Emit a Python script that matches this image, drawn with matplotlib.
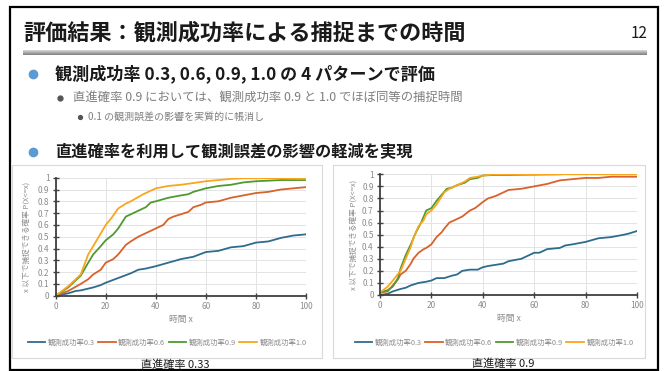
import matplotlib
matplotlib.use("Agg")
import matplotlib.pyplot as plt
import numpy as np

plt.rcParams['font.family'] = ['Noto Sans CJK JP', 'DejaVu Sans']

# ---- data -------------------------------------------------------------
series_labels = ["観測成功率0.3", "観測成功率0.6", "観測成功率0.9", "観測成功率1.0"]
series_colors = ["#2E6C8E", "#D9622B", "#4E9A2F", "#F9A61E"]

# 直進確率 0.33
left_x_03 = [0, 5, 8, 10, 13, 15, 18, 20, 25, 30, 33, 36, 40, 45, 50, 55, 60, 65, 70, 75, 80, 85, 90, 95, 100]
left_y_03 = [0, 0.02, 0.04, 0.045, 0.06, 0.07, 0.09, 0.11, 0.15, 0.19, 0.22, 0.23, 0.25, 0.28, 0.31, 0.33,
             0.37, 0.38, 0.41, 0.42, 0.45, 0.46, 0.49, 0.51, 0.52]
left_x_06 = [0, 5, 10, 13, 15, 18, 20, 23, 25, 28, 30, 33, 36, 40, 43, 45, 47, 50, 53, 55, 58, 60, 65, 70,
             75, 80, 85, 90, 95, 100]
left_y_06 = [0, 0.04, 0.10, 0.14, 0.18, 0.22, 0.28, 0.31, 0.35, 0.43, 0.46, 0.50, 0.53, 0.57, 0.60, 0.65,
             0.67, 0.69, 0.71, 0.75, 0.77, 0.79, 0.80, 0.83, 0.85, 0.87, 0.88, 0.90, 0.91, 0.92]
left_x_09 = [0, 5, 10, 13, 15, 18, 20, 23, 25, 28, 30, 33, 36, 38, 40, 45, 50, 53, 55, 60, 65, 70, 75, 80,
             90, 100]
left_y_09 = [0, 0.07, 0.17, 0.28, 0.35, 0.42, 0.47, 0.52, 0.57, 0.67, 0.69, 0.72, 0.75, 0.79, 0.80, 0.83,
             0.85, 0.86, 0.88, 0.91, 0.93, 0.94, 0.96, 0.97, 0.98, 0.98]
left_x_10 = [0, 5, 10, 13, 15, 20, 22, 25, 28, 30, 35, 40, 45, 50, 55, 60, 65, 70, 75, 80, 90, 100]
left_y_10 = [0, 0.08, 0.18, 0.35, 0.42, 0.60, 0.65, 0.74, 0.78, 0.80, 0.86, 0.91, 0.93, 0.94, 0.955, 0.97,
             0.98, 0.99, 0.995, 0.995, 0.995, 0.99]

# 直進確率 0.9
right_x_03 = [0, 3, 5, 8, 10, 12, 15, 18, 20, 22, 25, 28, 30, 32, 35, 38, 40, 42, 45, 48, 50, 55, 60, 62,
              65, 70, 72, 75, 80, 85, 90, 95, 97, 100]
right_y_03 = [0, 0.01, 0.03, 0.05, 0.06, 0.08, 0.10, 0.11, 0.12, 0.14, 0.14, 0.16, 0.17, 0.20, 0.21, 0.21,
              0.23, 0.24, 0.25, 0.26, 0.28, 0.30, 0.35, 0.35, 0.38, 0.39, 0.41, 0.42, 0.44, 0.47, 0.48,
              0.50, 0.51, 0.53]
right_x_06 = [0, 3, 5, 7, 8, 10, 12, 13, 15, 17, 18, 20, 22, 24, 25, 27, 30, 32, 35, 37, 40, 42, 45, 47, 50,
              55, 60, 65, 70, 75, 80, 85, 90, 100]
right_y_06 = [0.02, 0.03, 0.08, 0.13, 0.17, 0.20, 0.26, 0.30, 0.35, 0.38, 0.39, 0.42, 0.48, 0.52, 0.55,
              0.60, 0.63, 0.65, 0.70, 0.72, 0.77, 0.80, 0.82, 0.84, 0.87, 0.88, 0.90, 0.92, 0.95, 0.96,
              0.97, 0.97, 0.98, 0.98]
right_x_09 = [0, 3, 5, 7, 8, 10, 12, 14, 16, 18, 20, 22, 24, 26, 28, 30, 33, 35, 38, 40, 45, 50, 70]
right_y_09 = [0.02, 0.04, 0.07, 0.14, 0.22, 0.33, 0.42, 0.52, 0.60, 0.70, 0.72, 0.78, 0.83, 0.88, 0.89,
              0.91, 0.93, 0.96, 0.97, 0.99, 0.995, 0.995, 1.0]
right_x_10 = [0, 3, 5, 8, 10, 12, 13, 15, 17, 18, 20, 22, 25, 27, 30, 33, 35, 38, 40, 45, 100]
right_y_10 = [0.02, 0.07, 0.12, 0.20, 0.30, 0.40, 0.47, 0.57, 0.62, 0.67, 0.70, 0.75, 0.85, 0.88, 0.91,
              0.94, 0.97, 0.98, 0.99, 1.0, 1.0]

x_ticks = [0, 20, 40, 60, 80, 100]
y_ticks = [0, 0.1, 0.2, 0.3, 0.4, 0.5, 0.6, 0.7, 0.8, 0.9, 1]
y_tick_labels = ["0", "0.1", "0.2", "0.3", "0.4", "0.5", "0.6", "0.7", "0.8", "0.9", "1"]

W, H = 666, 371
fig = plt.figure(figsize=(W / 100, H / 100), dpi=100)
fig.patch.set_facecolor("white")

# slide layer in pixel units (y grows downward)
deco = fig.add_axes([0, 0, 1, 1])
deco.set_axis_off()

# slide frame
deco.add_patch(plt.Rectangle((10, 7), 648, 363, fill=False, ec="black", lw=1.6, zorder=5))

# title, page number and underline bar
deco.text(23, 33, "評価結果：観測成功率による捕捉までの時間", fontsize=15.9, fontweight="bold",
          color="#1a1a1a", va="center", ha="left")
deco.text(647, 33, "12", fontsize=11, color="#1a1a1a", va="center", ha="right")
grad = np.linspace(0.85, 0.5, 16).reshape(-1, 1)
deco.imshow(grad, extent=[23, 647, 55.5, 50.5], aspect="auto", cmap="gray", vmin=0, vmax=1,
            interpolation="bilinear")

# bullet text
bullet_blue = "#5B9BD5"
deco.plot([33], [74], "o", ms=6, color=bullet_blue)
deco.text(55, 74, "観測成功率 0.3, 0.6, 0.9, 1.0 の 4 パターンで評価", fontsize=12.3,
          fontweight="bold", color="#1a1a1a", va="center")
deco.plot([60], [98], "o", ms=3.5, color="#555555")
deco.text(73, 98, "直進確率 0.9 においては、観測成功率 0.9 と 1.0 でほぼ同等の捕捉時間", fontsize=8.9,
          color="#7f7f7f", va="center")
deco.plot([80], [117], "o", ms=2.8, color="#555555")
deco.text(88, 117, "0.1 の観測誤差の影響を実質的に帳消し", fontsize=7.2, color="#7f7f7f", va="center")
deco.plot([33], [152], "o", ms=6, color=bullet_blue)
deco.text(55, 152, "直進確率を利用して観測誤差の影響の軽減を実現", fontsize=11.7,
          fontweight="bold", color="#1a1a1a", va="center")

# chart image frames and captions
deco.add_patch(plt.Rectangle((12, 165), 310, 193, fill=False, ec="#d9d9d9", lw=0.8))
deco.add_patch(plt.Rectangle((333, 165), 312, 193, fill=False, ec="#d9d9d9", lw=0.8))
deco.text(175, 365, "直進確率 0.33", fontsize=8, color="#1a1a1a", ha="center", va="center")
deco.text(503, 364, "直進確率 0.9", fontsize=8, color="#1a1a1a", ha="center", va="center")

deco.set_xlim(0, W)
deco.set_ylim(H, 0)


def make_chart(rect, data, ylab_x, legend_x, legend_y):
    x0, x1, ytop, ybot = rect
    ax = fig.add_axes([x0 / W, 1 - ybot / H, (x1 - x0) / W, (ybot - ytop) / H])
    for (xs, ys), lab, col in zip(data, series_labels, series_colors):
        ax.plot(xs, ys, color=col, lw=1.3, label=lab, solid_joinstyle="round")
    ax.set_xlim(0, 100)
    ax.set_ylim(0, 1)
    ax.set_xticks(x_ticks)
    ax.set_yticks(y_ticks)
    ax.set_yticklabels(y_tick_labels)
    ax.grid(True, color="#e3e3e3", lw=0.7)
    ax.set_axisbelow(True)
    for s in ("top", "right"):
        ax.spines[s].set_visible(False)
    for s in ("left", "bottom"):
        ax.spines[s].set_color("#404040")
        ax.spines[s].set_linewidth(1.3)
    ax.tick_params(direction="inout", length=4, width=1, color="#404040",
                   labelsize=6, labelcolor="#8c8c8c", pad=2.5)
    ax.set_xlabel("時間 x", fontsize=6.3, color="#8c8c8c", labelpad=3)
    ax.set_ylabel("x 以下で捕捉できる確率 P(X<=x)", fontsize=5.5, color="#8c8c8c")
    ax.yaxis.set_label_coords((ylab_x - x0) / (x1 - x0), 0.5)
    ax.legend(loc="center",
              bbox_to_anchor=((legend_x - x0) / (x1 - x0), -(legend_y - ybot) / (ybot - ytop)),
              ncol=4, frameon=False, fontsize=5.3, handlelength=2.4, handletextpad=0.3,
              columnspacing=0.5, labelcolor="#8c8c8c")
    return ax


make_chart((55.7, 306, 177.7, 295.7),
           [(left_x_03, left_y_03), (left_x_06, left_y_06), (left_x_09, left_y_09), (left_x_10, left_y_10)],
           31, 167, 343)
make_chart((380, 637, 174.3, 295),
           [(right_x_03, right_y_03), (right_x_06, right_y_06), (right_x_09, right_y_09),
            (right_x_10, right_y_10)],
           358, 494, 343)

fig.savefig("out.png", dpi=100)
